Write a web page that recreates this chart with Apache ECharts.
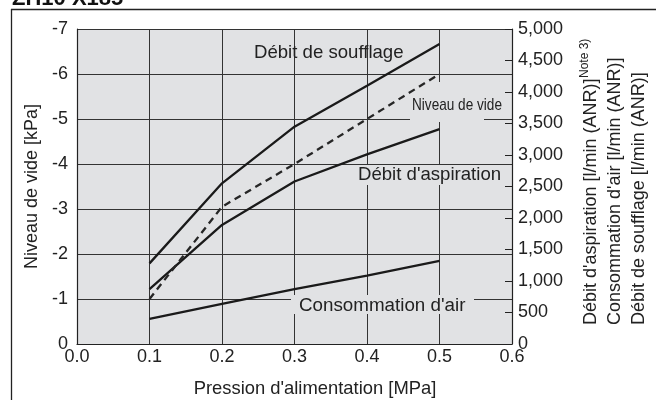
<!DOCTYPE html>
<html>
<head>
<meta charset="utf-8">
<script src="https://cdn.jsdelivr.net/npm/echarts@6/dist/echarts.min.js"></script>
<style>
html,body{margin:0;padding:0;background:#fff;}
#c{width:656px;height:400px;}
</style>
</head>
<body>
<div id="c"></div>
<script>
// Data
const pressions = [0.1, 0.2, 0.3, 0.4, 0.5];               // MPa
const debitSoufflage = [1280, 2550, 3450, 4100, 4760];     // l/min (ANR), right axis
const debitAspiration = [870, 1890, 2580, 3010, 3410];     // l/min (ANR), right axis
const consommationAir = [400, 635, 870, 1085, 1320];       // l/min (ANR), right axis
const niveauVide = [-1.0, -3.05, -4.0, -5.0, -6.0];        // kPa, left axis

const xMin = 0, xMax = 0.6, xStep = 0.1;
const vMin = -7, vMax = 0, vStep = 1;
const fMin = 0, fMax = 5000, fStep = 500;

const FONT = "'Liberation Sans', Arial, Helvetica, sans-serif";
const INK = '#222';
const BG = '#e1e2e4';

function pairs(ys){ return pressions.map((x,i)=>[x, ys[i]]); }

const chart = echarts.init(document.getElementById('c'), null, {renderer:'canvas'});
const lineStyleSolid = {color:'#1a1a1a', width:2.3};

chart.setOption({
  animation:false,
  backgroundColor:'#fff',
  grid:{left:77, top:29, width:435, height:315, show:true, backgroundColor:BG, borderWidth:0, containLabel:false},
  xAxis:{
    type:'value', min:xMin, max:xMax, interval:xStep,
    axisLine:{show:true, lineStyle:{color:INK, width:1.2}},
    axisTick:{show:false},
    splitLine:{show:true, lineStyle:{color:'#333', width:1}},
    axisLabel:{fontFamily:FONT, fontSize:18, color:INK, margin:4, formatter:v=>v.toFixed(1)}
  },
  yAxis:[
    {
      type:'value', position:'left', inverse:true, min:vMin, max:vMax, interval:vStep,
      axisLine:{show:true, lineStyle:{color:INK, width:1.2}},
      axisTick:{show:false},
      splitLine:{show:true, lineStyle:{color:'#333', width:1}},
      axisLabel:{fontFamily:FONT, fontSize:18, color:INK, margin:9},
      name:'Niveau de vide [kPa]', nameLocation:'middle', nameRotate:90, nameGap:30,
      nameTextStyle:{fontFamily:FONT, fontSize:18, color:INK}
    },
    {
      type:'value', position:'right', min:fMin, max:fMax, interval:fStep,
      axisLine:{show:true, lineStyle:{color:INK, width:1.2}},
      axisTick:{show:true, inside:true, length:7, lineStyle:{color:INK, width:1}},
      splitLine:{show:false},
      axisLabel:{fontFamily:FONT, fontSize:18, color:INK, margin:6,
        formatter:v=>v.toLocaleString('en-US')}
    }
  ],
  series:[
    {name:'Débit de soufflage', type:'line', yAxisIndex:1, data:pairs(debitSoufflage), symbol:'none', z:5, lineStyle:lineStyleSolid},
    {name:"Débit d'aspiration", type:'line', yAxisIndex:1, data:pairs(debitAspiration), symbol:'none', z:5, lineStyle:lineStyleSolid},
    {name:"Consommation d'air", type:'line', yAxisIndex:1, data:pairs(consommationAir), symbol:'none', z:5, lineStyle:lineStyleSolid},
    {name:'Niveau de vide', type:'line', yAxisIndex:0, data:pairs(niveauVide), symbol:'none', z:5,
      lineStyle:{color:'#262626', width:2.3, type:[7,5]}}
  ],
  graphic:[
    // outer frame (top + left)
    {type:'line', z:1, shape:{x1:11, y1:9.5, x2:656, y2:9.5}, style:{stroke:INK, lineWidth:1.3}},
    {type:'line', z:1, shape:{x1:11.5, y1:9, x2:11.5, y2:400}, style:{stroke:INK, lineWidth:1.3}},
    // clipped title (only the foot of the letters shows)
    {type:'text', z:1, x:12, y:10, style:{text:'ZH10 X185', font:"bold 22px "+FONT, fill:'#111', align:'left', verticalAlign:'bottom'}},
    // label boxes
    {type:'rect', z:2, shape:{x:410, y:82, width:74, height:40}, style:{fill:BG}},
    {type:'rect', z:2, shape:{x:352, y:165, width:153, height:20}, style:{fill:BG}},
    {type:'rect', z:2, shape:{x:291, y:295, width:183, height:19}, style:{fill:BG}},
    // series labels
    {type:'text', z:3, x:254, y:53, style:{text:'Débit de soufflage', font:'18.6px '+FONT, fill:INK, align:'left', verticalAlign:'middle'}},
    {type:'text', z:3, x:412, y:105, scaleX:0.8, style:{text:'Niveau de vide', font:'17px '+FONT, fill:INK, align:'left', verticalAlign:'middle'}},
    {type:'text', z:3, x:358, y:175, style:{text:"Débit d'aspiration", font:'18.6px '+FONT, fill:INK, align:'left', verticalAlign:'middle'}},
    {type:'text', z:3, x:299, y:306, style:{text:"Consommation d'air", font:'18.8px '+FONT, fill:INK, align:'left', verticalAlign:'middle'}},
    // x axis name
    {type:'text', z:3, x:315, y:389, style:{text:"Pression d'alimentation [MPa]", font:'18.4px '+FONT, fill:INK, align:'center', verticalAlign:'middle'}},
    // right axis names
    {type:'text', z:3, x:591, y:325, rotation:Math.PI/2, style:{text:"Débit d'aspiration [l/min (ANR)]", font:'18px '+FONT, fill:INK, align:'left', verticalAlign:'middle'}},
    {type:'text', z:3, x:585, y:78, rotation:Math.PI/2, style:{text:'Note 3)', font:'12px '+FONT, fill:INK, align:'left', verticalAlign:'middle'}},
    {type:'text', z:3, x:615, y:325, rotation:Math.PI/2, style:{text:"Consommation d'air [l/min (ANR)]", font:'18px '+FONT, fill:INK, align:'left', verticalAlign:'middle'}},
    {type:'text', z:3, x:639, y:325, rotation:Math.PI/2, style:{text:'Débit de soufflage [l/min (ANR)]', font:'18px '+FONT, fill:INK, align:'left', verticalAlign:'middle'}}
  ]
});
</script>
</body>
</html>
